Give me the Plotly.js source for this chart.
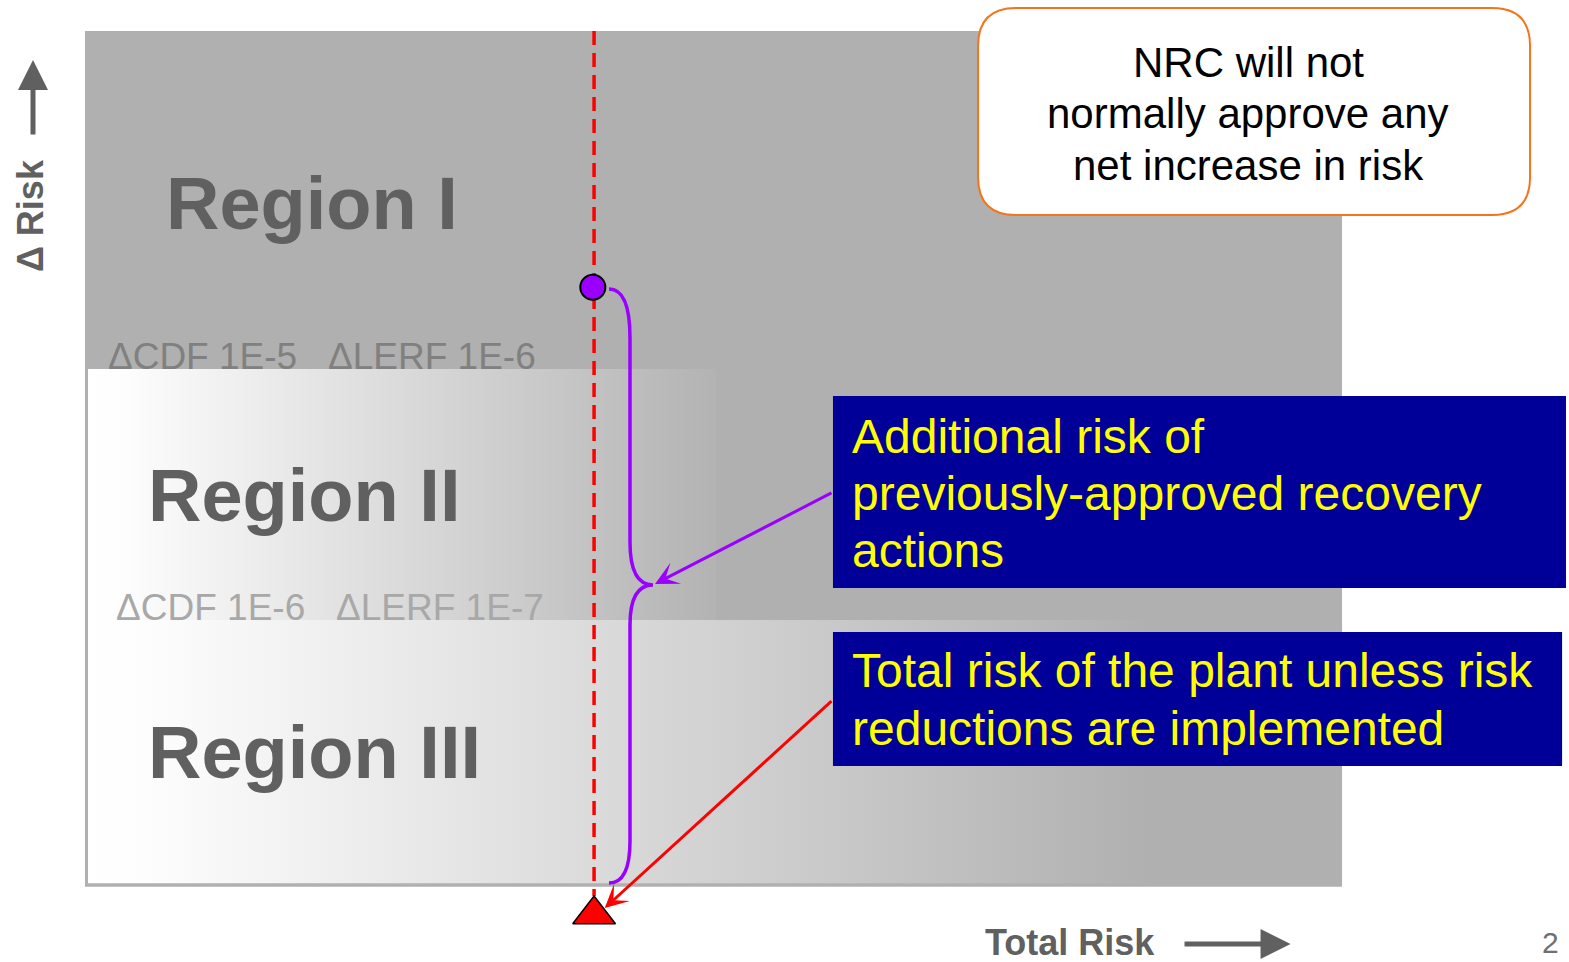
<!DOCTYPE html>
<html>
<head>
<meta charset="utf-8">
<script src="https://cdn.plot.ly/plotly-3.0.1.min.js"></script>
<style>html,body{margin:0;padding:0;background:#fff;}#chart{width:1569px;height:962px;}</style>
</head>
<body>
<div id="chart"></div>
<script>
// ---------- data (diagram units: Total Risk 0..100, Δ Risk 0..100) ----------
const regionNames = ['Region I', 'Region II', 'Region III'];
const regionLabelX = [6.2, 4.75, 4.75];
const regionLabelY = [79.86, 45.61, 15.46];
const regionBounds = [0, 31.03, 60.42, 100];          // Δ Risk boundaries III | II | I
const regionIIRight = 50.2;

const thresholdLabels = ['ΔCDF 1E-5\u00a0\u00a0\u00a0ΔLERF 1E-6', 'ΔCDF 1E-6\u00a0\u00a0\u00a0ΔLERF 1E-7'];
const thresholdLabelX = [1.75, 2.39];
const thresholdLabelY = [61.55, 32.1];
const thresholdColors = ['#808080', '#a8a8a8'];

const plantTotalRisk = 40.45;        // dashed line position
const approvedPointY = [70.0];       // purple circle
const plantPointY = [-3.45];         // red triangle

const nrcNote = ['NRC will not', 'normally approve any', 'net increase in risk'];
const recoveryNote = ['Additional risk of', 'previously-approved recovery', 'actions'];
const plantNote = ['Total risk of the plant unless risk', 'reductions are implemented'];

const xAxisLabel = 'Total Risk';
const yAxisLabel = 'Δ Risk';
const pageNumber = '2';

// ---------- layout helpers ----------
const FONT = 'Liberation Sans, Arial, sans-serif';
const xRange = [-6.847, 118.07];
const yRange = [-9.016, 103.63];
const pxX = 1569 / (xRange[1] - xRange[0]);
const pxY = 962 / (yRange[1] - yRange[0]);

function roundedRect(x0, x1, y0, y1, rpx) {
  const rx = rpx / pxX, ry = rpx / pxY;
  return `M${x0 + rx},${y1} L${x1 - rx},${y1} Q${x1},${y1} ${x1},${y1 - ry} ` +
         `L${x1},${y0 + ry} Q${x1},${y0} ${x1 - rx},${y0} L${x0 + rx},${y0} ` +
         `Q${x0},${y0} ${x0},${y0 + ry} L${x0},${y1 - ry} Q${x0},${y1} ${x0 + rx},${y1} Z`;
}

function labelTrace(i) {
  return { type: 'scatter', mode: 'text', x: [thresholdLabelX[i]], y: [thresholdLabelY[i]],
    text: [thresholdLabels[i]], textposition: 'middle right',
    textfont: { family: FONT, size: 37, color: thresholdColors[i] },
    hoverinfo: 'skip', marker: { size: 1 } };
}
const grad = [[0, '#ffffff'], [0.06, '#fdfdfd'], [1, '#b0b0b0']];

const traces = [
  labelTrace(0),
  { type: 'scatter', mode: 'none', fill: 'toself',
    x: [0.16, regionIIRight, regionIIRight, 0.16],
    y: [regionBounds[1], regionBounds[1], regionBounds[2], regionBounds[2]],
    fillgradient: { type: 'horizontal', start: 0, stop: 52, colorscale: grad },
    hoverinfo: 'skip' },
  labelTrace(1),
  { type: 'scatter', mode: 'none', fill: 'toself',
    x: [0.16, 100, 100, 0.16],
    y: [0.2, 0.2, regionBounds[1], regionBounds[1]],
    fillgradient: { type: 'horizontal', start: 0, stop: 85, colorscale: grad },
    hoverinfo: 'skip' },
  { type: 'scatter', mode: 'lines', x: [plantTotalRisk, plantTotalRisk], y: [100, -1.3],
    line: { color: '#ff0000', width: 3.5, dash: '14px,8px' }, hoverinfo: 'skip' },
  { type: 'scatter', mode: 'markers', x: [plantTotalRisk - 0.1], y: approvedPointY,
    marker: { symbol: 'circle', size: 25, color: '#9900ff', line: { color: '#000', width: 2 } },
    hoverinfo: 'skip' },
  { type: 'scatter', mode: 'markers', x: [plantTotalRisk], y: plantPointY,
    marker: { symbol: 'triangle-up', size: 37, color: '#ff0000', line: { color: '#000', width: 1.5 } },
    hoverinfo: 'skip', cliponaxis: false }
];

const shapes = [
  { type: 'rect', layer: 'below', x0: -0.08, x1: 100, y0: -0.2, y1: 100,
    fillcolor: '#b0b0b0', line: { width: 0 } },
  { type: 'path', layer: 'above',
    path: 'M41.64,69.79 Q43.31,69.79 43.31,64.05 L43.31,40.16 Q43.31,35.13 45.14,35.13 ' +
          'Q43.31,35.13 43.31,30.44 L43.31,5.15 Q43.31,0.23 41.64,0.23',
    line: { color: '#9900ff', width: 3.5 } },
  { type: 'rect', layer: 'above', x0: 59.47, x1: 117.83, y0: 34.78, y1: 57.26,
    fillcolor: '#000099', line: { width: 0 } },
  { type: 'rect', layer: 'above', x0: 59.47, x1: 117.52, y0: 13.93, y1: 29.63,
    fillcolor: '#000099', line: { width: 0 } },
  { type: 'path', layer: 'above', path: roundedRect(71.02, 114.97, 78.45, 102.69, 38),
    fillcolor: '#ffffff', line: { color: '#f5731b', width: 2 } }
];

const annotations = [];
regionNames.forEach((t, i) => annotations.push({
  x: regionLabelX[i], y: regionLabelY[i], text: t, showarrow: false, xanchor: 'left', yanchor: 'middle',
  font: { family: FONT, size: 74, color: '#606060', weight: 700 }
}));
function addLines(lines, x, y0, pitchPx, size, color, anchor) {
  lines.forEach((t, i) => annotations.push({
    x: x, y: y0 - i * pitchPx / pxY, text: t, showarrow: false, xanchor: anchor, yanchor: 'middle',
    font: { family: FONT, size: size, color: color }
  }));
}
addLines(nrcNote, 92.52, 96.37, 51.5, 42, '#000000', 'center');
addLines(recoveryNote, 60.85, 52.46, 57, 48, '#ffff00', 'left');
addLines(plantNote, 60.85, 25.06, 58, 48, '#ffff00', 'left');

// arrows
annotations.push(
  { x: 45.3, y: 35.25, ax: 59.47, ay: 46.0, axref: 'x', ayref: 'y', text: '', showarrow: true,
    arrowhead: 3, arrowsize: 1.3, arrowwidth: 3, arrowcolor: '#9900ff', standoff: 0 },
  { x: 41.3, y: -2.7, ax: 59.47, ay: 21.7, axref: 'x', ayref: 'y', text: '', showarrow: true,
    arrowhead: 3, arrowsize: 1.3, arrowwidth: 3, arrowcolor: '#ff0000', standoff: 0 },
  { x: -4.22, y: 96.6, ax: -4.22, ay: 87.7, axref: 'x', ayref: 'y', text: '', showarrow: true,
    arrowhead: 2, arrowsize: 1.2, arrowwidth: 5, arrowcolor: '#606060', standoff: 0 },
  { x: 95.9, y: -6.91, ax: 87.34, ay: -6.91, axref: 'x', ayref: 'y', text: '', showarrow: true,
    arrowhead: 2, arrowsize: 1.2, arrowwidth: 5, arrowcolor: '#606060', standoff: 0 },
  { x: -4.46, y: 78.45, text: yAxisLabel, textangle: -90, showarrow: false,
    font: { family: FONT, size: 36, color: '#606060', weight: 700 } },
  { x: 71.42, y: -6.79, text: xAxisLabel, showarrow: false, xanchor: 'left', yanchor: 'middle',
    font: { family: FONT, size: 36, color: '#606060', weight: 700 } },
  { x: 116.6, y: -8.95, text: pageNumber, showarrow: false, xanchor: 'center', yanchor: 'bottom',
    font: { family: FONT, size: 30, color: '#707070' } }
);

const layout = {
  width: 1569, height: 962,
  margin: { l: 0, r: 0, t: 0, b: 0 },
  paper_bgcolor: '#ffffff', plot_bgcolor: '#ffffff',
  showlegend: false, dragmode: false, hovermode: false,
  xaxis: { range: xRange, visible: false, fixedrange: true },
  yaxis: { range: yRange, visible: false, fixedrange: true },
  shapes: shapes, annotations: annotations
};

Plotly.newPlot('chart', traces, layout, { displayModeBar: false, staticPlot: true });
</script>
</body>
</html>
